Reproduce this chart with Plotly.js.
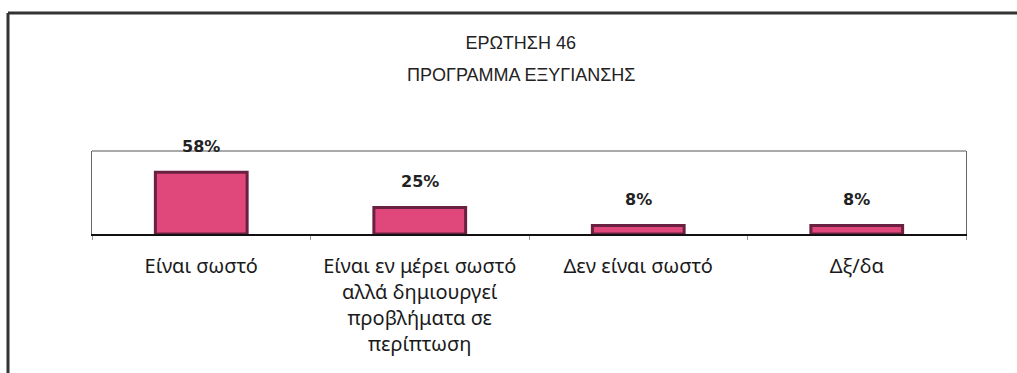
<!DOCTYPE html>
<html>
<head>
<meta charset="utf-8">
<script src="https://cdn.plot.ly/plotly-3.0.1.min.js"></script>
<style>html,body{margin:0;padding:0;background:#fff;}#chart{width:1017px;height:373px;}</style>
</head>
<body>
<div id="chart"></div>
<script>
const titleLine1 = "ΕΡΩΤΗΣΗ 46";
const titleLine2 = "ΠΡΟΓΡΑΜΜΑ ΕΞΥΓΙΑΝΣΗΣ";
const categories = ["Είναι σωστό", "Είναι εν μέρει σωστό αλλά δημιουργεί προβλήματα σε περίπτωση", "Δεν είναι σωστό", "Δξ/δα"];
const tickLabels = ["Είναι σωστό", "Είναι εν μέρει σωστό<br>αλλά δημιουργεί<br>προβλήματα σε<br>περίπτωση", "Δεν είναι σωστό", "Δξ/δα"];
const values = [58, 25, 8, 8];

const pctAnnotations = categories.map((c, i) => ({
  x: c, y: values[i], xref: 'x', yref: 'y',
  text: values[i] + '%', showarrow: false, yshift: 26,
  font: {family: 'DejaVu Sans', size: 16, color: '#222', weight: 'bold'}
}));

const data = [{
  type: 'bar',
  x: categories,
  y: values,
  width: 0.42,
  marker: {color: '#e0487c', line: {color: '#6a2040', width: 3}},
  hoverinfo: 'skip'
}];

const layout = {
  width: 1017, height: 373,
  margin: {l: 92, r: 51, t: 151, b: 139},
  paper_bgcolor: '#ffffff', plot_bgcolor: '#ffffff',
  showlegend: false,
  title: {
    text: titleLine1, x: 0.512, xanchor: 'center', xref: 'container',
    y: 1 - 43/373, yanchor: 'middle', yref: 'container',
    font: {family: 'Liberation Sans', size: 18, color: '#222'}
  },
  xaxis: {
    type: 'category',
    tickvals: categories, ticktext: tickLabels,
    showline: true, linecolor: '#111', linewidth: 2,
    ticks: 'outside', tickson: 'boundaries', ticklen: 4, tickcolor: '#999', tickwidth: 1,
    ticklabelstandoff: 13,
    tickfont: {family: 'Noto Sans', size: 20, color: '#1a1a1a'},
    showgrid: false, zeroline: false, fixedrange: true
  },
  yaxis: {
    range: [0, 78],
    showline: true, linecolor: '#666', linewidth: 1, mirror: true,
    showticklabels: false, ticks: '', showgrid: false, zeroline: false, fixedrange: true
  },
  annotations: pctAnnotations.concat([{
    text: titleLine2, xref: 'paper', yref: 'paper',
    x: (521 - 92) / 874, y: (234 - 75) / 83, xanchor: 'center', yanchor: 'middle',
    showarrow: false,
    font: {family: 'Liberation Sans', size: 18, color: '#222'}
  }]),
  shapes: [
    {type: 'line', xref: 'paper', yref: 'paper', x0: 0, x1: 1, y0: 1, y1: 1,
     line: {color: '#555', width: 1}},
    {type: 'line', xref: 'paper', yref: 'paper', x0: (8 - 92) / 874, x1: (1017 - 92) / 874,
     y0: (234 - 13) / 83, y1: (234 - 13) / 83, line: {color: '#333', width: 3}},
    {type: 'line', xref: 'paper', yref: 'paper', x0: (8 - 92) / 874, x1: (8 - 92) / 874,
     y0: (234 - 13) / 83, y1: (234 - 373) / 83, line: {color: '#333', width: 3}}
  ]
};

Plotly.newPlot('chart', data, layout, {displayModeBar: false, staticPlot: true});
</script>
</body>
</html>
